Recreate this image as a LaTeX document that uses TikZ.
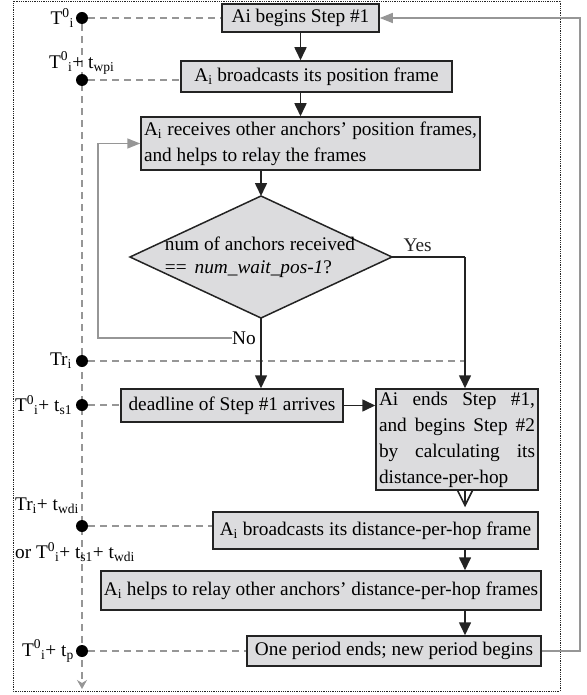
\documentclass[tikz,border=0pt]{standalone}
\usepackage{fontspec}
\setmainfont{Liberation Serif}
\usetikzlibrary{arrows.meta,backgrounds}
\hyphenpenalty=10000
\exhyphenpenalty=10000
\definecolor{boxgray}{RGB}{220,220,222}
\definecolor{linegray}{RGB}{150,150,150}
\definecolor{frameblack}{RGB}{35,35,35}

\begin{document}
\begin{tikzpicture}[x=1pt,y=-1pt,
  font=\fontsize{19.3}{26}\selectfont,
  box/.style={draw=frameblack,fill=boxgray,line width=1.5pt,inner xsep=3pt,inner ysep=2pt,align=center},
  dot/.style={circle,fill=black,inner sep=0pt,minimum size=12pt},
  flow/.style={frameblack,line width=1.6pt,-{Triangle[width=12pt,length=13pt]}},
  back/.style={linegray,line width=1.5pt,-{Triangle[width=10pt,length=13pt]}},
  tick/.style={linegray,line width=1.5pt,dash pattern=on 7pt off 5pt},
  lab/.style={inner sep=0pt}]
  \useasboundingbox (0,0) rectangle (586,695);
  \draw[densely dotted,line width=0.8pt,frameblack] (13,1.5) rectangle (560,691);

  % flow boxes
  \node[box,minimum width=157pt,minimum height=28pt] (begin) at (300.5,18) {Ai begins Step \#1};
  \node[box,minimum width=271pt,minimum height=31pt] (bcast) at (316.5,76.5) {A\textsubscript{i} broadcasts its position frame};
  \node[box,text width=333pt,align=justify,minimum height=53pt] (recv) at (310.5,143.5)
    {A\textsubscript{i} receives other anchors’ position frames, and helps to relay the frames};

  \coordinate (dec-n) at (261,196);
  \coordinate (dec-e) at (392,257);
  \coordinate (dec-s) at (261,318);
  \coordinate (dec-w) at (130,257);
  \draw[line width=1.5pt,draw=frameblack,fill=boxgray] (dec-n) -- (dec-e) -- (dec-s) -- (dec-w) -- cycle;
  \node[align=left,inner sep=0pt] (dec) at (260,257) {num of anchors received\\[-3pt]==\, \textit{num\_wait\_pos-1}?};

  \node[box,minimum width=222pt,minimum height=33pt] (deadline) at (232,405.5) {deadline of Step \#1 arrives};
  \node[box,text width=156pt,align=justify,minimum height=101pt] (ends) at (457,439.5)
    {Ai ends Step \#1, and begins Step \#2 by calculating its distance-per-hop};
  \node[box,minimum width=325pt,minimum height=37pt] (bcastd) at (375.5,530.5) {A\textsubscript{i} broadcasts its distance-per-hop frame};
  \node[box,minimum width=440pt,minimum height=39pt] (relay) at (321,590.5) {A\textsubscript{i} helps to relay other anchors’ distance-per-hop frames};
  \node[box,minimum width=294pt,minimum height=30pt] (period) at (394,651) {One period ends; new period begins};

  % time line
  \node[dot] (d1) at (82,18) {};
  \node[dot] (d2) at (82,80) {};
  \node[dot] (d3) at (82,361) {};
  \node[dot] (d4) at (82,405) {};
  \node[dot] (d5) at (82,526) {};
  \node[dot] (d6) at (82,651) {};
  \coordinate (tend) at (82,689);

  \node[lab,anchor=east] (l1) at (74,18) {T\textsuperscript{0}\textsubscript{i}};
  \node[lab,anchor=west] (l2) at (49,63) {T\textsuperscript{0}\textsubscript{i}+ t\textsubscript{wpi}};
  \node[lab,anchor=east] (l3) at (72,361) {Tr\textsubscript{i}};
  \node[lab,anchor=west] (l4) at (15,405) {T\textsuperscript{0}\textsubscript{i}+ t\textsubscript{s1}};
  \node[lab,anchor=west] (l5) at (15,506) {Tr\textsubscript{i}+ t\textsubscript{wdi}};
  \node[lab,anchor=west] (l6) at (15,552) {or T\textsuperscript{0}\textsubscript{i}+ t\textsubscript{s1}+ t\textsubscript{wdi}};
  \node[lab,anchor=west] (l7) at (22,651) {T\textsuperscript{0}\textsubscript{i}+ t\textsubscript{p}};

  \coordinate (ycol) at (465,257);
  \coordinate (nocorner) at (98,338);
  \coordinate (rcol) at (580,0);
  \node[lab] (no) at (244,338) {No};

  \begin{scope}[on background layer]
    \draw[tick,-{Stealth[width=10pt,length=9pt,inset=3pt]}] (d1) -- (tend);
    \draw[tick] (d1) -- (begin.west);
    \draw[tick] (d2) -- (d2 -| bcast.west);
    \draw[tick] (d3) -- (d3 -| ycol);
    \draw[tick] (d4) -- (d4 -| deadline.west);
    \draw[tick] (d5) -- (d5 -| bcastd.west);
    \draw[tick] (d6) -- (period.west);
  \end{scope}

  \draw[flow] (begin) -- (begin |- bcast.north);
  \draw[flow] (bcast.south -| begin) -- (recv.north -| begin);
  \draw[flow] (recv.south -| dec-n) -- (dec-n);
  \draw[flow] (dec-s) -- (dec-s |- deadline.north);
  \draw[frameblack,line width=1.6pt] (dec-e) -- node[lab,above=5pt,pos=0.35] (yes) {Yes} (ycol);
  \draw[flow] (ycol) -- (ycol |- ends.north);
  \draw[flow] (deadline.east) -- (deadline.east -| ends.west);
  \draw[frameblack,line width=1.6pt,-{Straight Barb[width=16pt,length=16pt]},shorten >=4pt] (ends.south -| ycol) -- (bcastd.north -| ycol);
  \draw[flow] (bcastd.south -| ycol) -- (relay.north -| ycol);
  \draw[flow] (relay.south -| ycol) -- (period.north -| ycol);

  \draw[back] (no.west) -- (nocorner) |- (recv.west);
  \draw[back] (period.east) -- (period.east -| rcol) -- (rcol |- begin.east) -- (begin.east);
\end{tikzpicture}
\end{document}
